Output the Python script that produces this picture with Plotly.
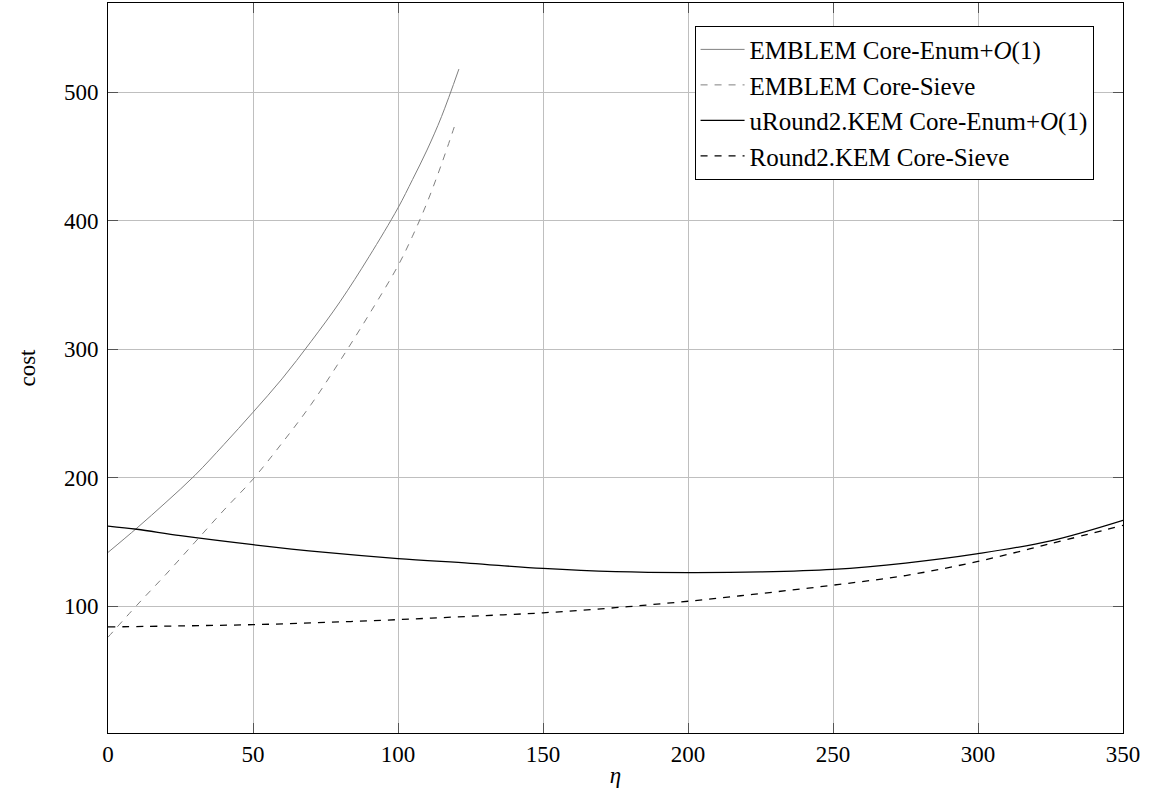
import plotly.graph_objects as go

# EMBLEM Core-Enum+O(1) (gray solid)
emb_enum_x = [0, 10, 20, 30, 40, 50, 60, 70, 80, 90, 100, 105, 110, 115, 121]
emb_enum_y = [142, 161, 181, 202, 226, 251, 277, 306, 337, 372, 410, 432, 455, 481, 518]

# EMBLEM Core-Sieve (gray dashed)
emb_sieve_x = [0, 10, 20, 30, 40, 50, 60, 70, 80, 90, 100, 105, 110, 115, 120]
emb_sieve_y = [76, 101, 125, 150, 175, 199, 227, 257, 291, 327, 365, 388, 414, 444, 477]

# uRound2.KEM Core-Enum+O(1) (black solid)
ur_enum_x = [0, 10, 25, 50, 75, 100, 125, 150, 175, 200, 225, 250, 275, 300, 325, 350]
ur_enum_y = [162.5, 160, 155, 148, 142, 137.2, 133.5, 129.5, 127, 126.3, 126.8, 128.8, 133.7, 141, 151, 167]

# Round2.KEM Core-Sieve (black dashed)
r2_sieve_x = [0, 25, 50, 75, 100, 125, 150, 175, 200, 225, 250, 275, 300, 325, 350]
r2_sieve_y = [84, 84.8, 85.8, 87.5, 89.7, 92.3, 95, 99, 104, 110, 116.5, 124, 135, 148.8, 163]

x_ticks = [0, 50, 100, 150, 200, 250, 300, 350]
y_ticks = [100, 200, 300, 400, 500]

FONT = "Liberation Serif"
GRAY = "#808080"
DASH = "7px,7px"

fig = go.Figure()
fig.add_trace(go.Scatter(x=emb_enum_x, y=emb_enum_y, mode="lines", line=dict(color=GRAY, width=1, shape="spline"),
                         name="EMBLEM Core-Enum+<i>O</i>(1)"))
fig.add_trace(go.Scatter(x=emb_sieve_x, y=emb_sieve_y, mode="lines", line=dict(color=GRAY, width=1, dash=DASH, shape="spline"),
                         name="EMBLEM Core-Sieve"))
fig.add_trace(go.Scatter(x=ur_enum_x, y=ur_enum_y, mode="lines", line=dict(color="black", width=1.3, shape="spline"),
                         name="uRound2.KEM Core-Enum+<i>O</i>(1)"))
fig.add_trace(go.Scatter(x=r2_sieve_x, y=r2_sieve_y, mode="lines", line=dict(color="black", width=1.3, dash=DASH, shape="spline"),
                         name="Round2.KEM Core-Sieve"))

axis_common = dict(
    showgrid=True, gridcolor="#bfbfbf", gridwidth=1,
    showline=True, linecolor="black", linewidth=1, mirror="allticks",
    ticks="inside", ticklen=10, tickcolor="#555555", tickwidth=1,
    zeroline=False,
    tickfont=dict(family=FONT, size=23, color="black"),
)

fig.update_layout(
    width=1153, height=800,
    margin=dict(l=107.5, r=30.3, t=2.7, b=66.7, autoexpand=False),
    paper_bgcolor="white", plot_bgcolor="white",
    font=dict(family=FONT, size=23, color="black"),
    showlegend=True,
    legend=dict(x=0.971, y=0.969, xanchor="right", yanchor="top",
                bgcolor="white", bordercolor="black", borderwidth=1,
                font=dict(family=FONT, size=25, color="black"),
                tracegroupgap=0, itemwidth=44),
    xaxis=dict(range=[0, 350], tickvals=x_ticks, ticktext=[str(v) for v in x_ticks],
               title=dict(text="<i>η</i>", font=dict(family=FONT, size=23), standoff=1),
               automargin=False, **axis_common),
    yaxis=dict(range=[1.5, 569.4], tickvals=y_ticks, ticktext=[str(v) for v in y_ticks],
               ticklabelstandoff=4,
               title=dict(text="cost", font=dict(family=FONT, size=23), standoff=21),
               automargin=False, **axis_common),
)

fig.write_html("out.html", config={"displayModeBar": False},
               post_script="document.body.style.margin='0';document.body.style.overflow='hidden';")
